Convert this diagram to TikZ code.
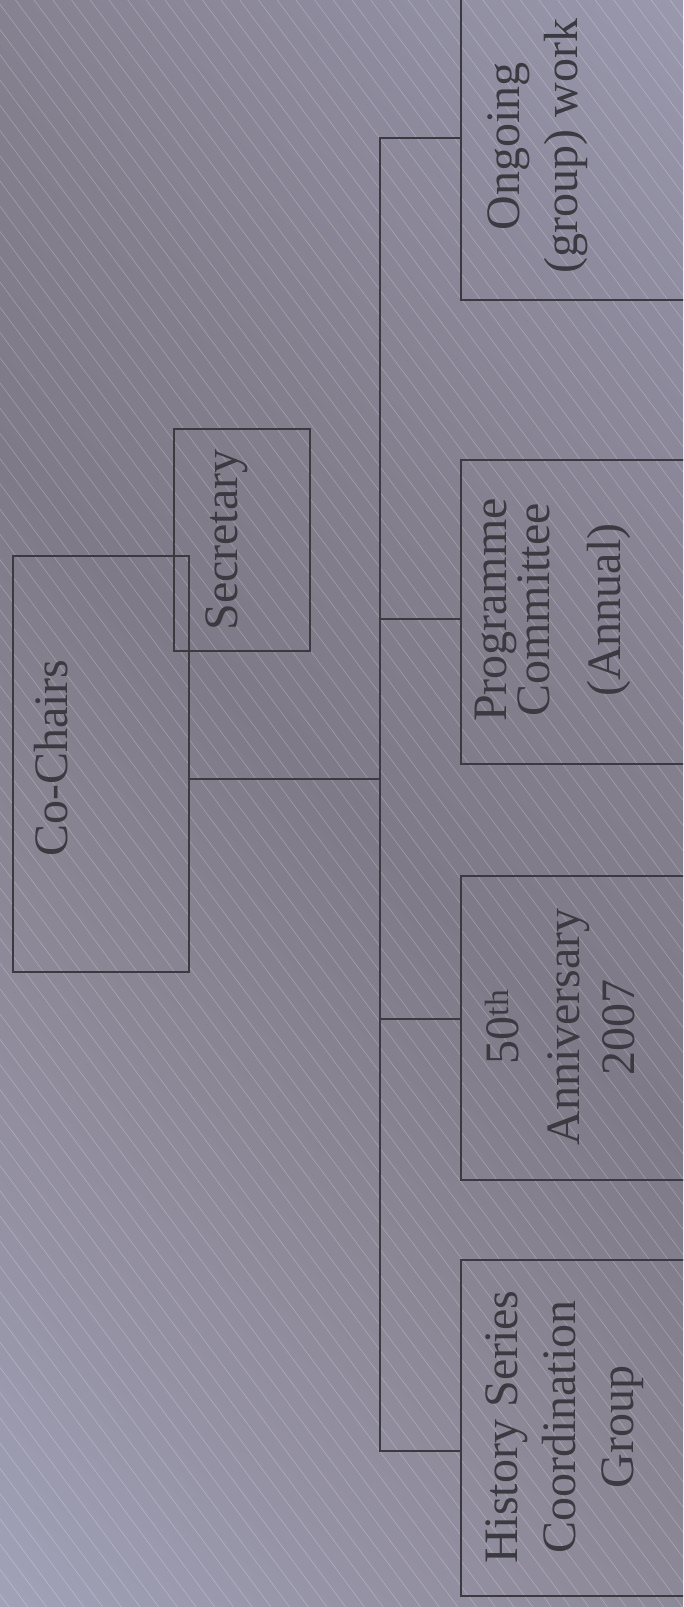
\documentclass[tikz,border=0pt]{standalone}
\usepackage{fontspec}
\setmainfont{Liberation Serif}
\definecolor{ink}{HTML}{3B3A40}
\definecolor{bgA}{HTML}{A0A2B8}
\definecolor{bgB}{HTML}{9693A6}
\definecolor{bgC}{HTML}{8A8694}
\definecolor{bgD}{HTML}{7E7A88}
\definecolor{bgE}{HTML}{847F8D}
\definecolor{bgF}{HTML}{8E8B9E}
\definecolor{bgG}{HTML}{9A98AD}
\pgfdeclarehorizontalshading{bgshade}{100bp}{color(0bp)=(bgA); color(14.6bp)=(bgA); color(25.2bp)=(bgB); color(38bp)=(bgC); color(50bp)=(bgD); color(61.3bp)=(bgE); color(74.7bp)=(bgF); color(85.3bp)=(bgG); color(100bp)=(bgG)}
\tikzset{
  boxst/.style={draw=ink, line width=2pt, inner sep=0pt, anchor=north west},
  conn/.style={draw=ink, line width=2pt},
  lbl/.style={text=ink, rotate=90, align=center, inner sep=0pt, font=\fontsize{48}{58}\selectfont},
  hatch/.style={white, opacity=0.26, line width=0.6pt}
}
\begin{document}
\begin{tikzpicture}[x=1pt,y=-1pt]
\useasboundingbox (0,0) rectangle (683,1607);
\begin{scope}
\clip (0,0) rectangle (683,1607);
\shade[shading=bgshade, shading angle=45] (0,0) rectangle (683,1607);
\foreach \c in {-1200,-1181.3,...,700} \draw[hatch] (\c,0) -- ({\c+1190.4},1607);

% boxes
\node[boxst, minimum width=176.2pt, minimum height=415.5pt] (cochairs) at (11.8,555) {};
\node[boxst, minimum width=136.3pt, minimum height=222pt] (secretary) at (172.5,428.3) {};
\node[boxst, minimum width=249.6pt, minimum height=319pt] (ongoing) at (460.4,-20) {};
\node[boxst, minimum width=249.6pt, minimum height=303.7pt] (programme) at (460.4,459) {};
\node[boxst, minimum width=249.6pt, minimum height=304pt] (anniversary) at (460.4,875) {};
\node[boxst, minimum width=249.6pt, minimum height=335.5pt] (history) at (460.4,1259) {};

% connectors
\coordinate (j) at (380.2,779);
\coordinate (bOn) at (380.2,138.3);
\coordinate (bPr) at (380.2,618.7);
\coordinate (bAn) at (380.2,1018.7);
\coordinate (bHi) at (380.2,1450.5);
\draw[conn] (cochairs.east |- j) -- (j);
\draw[conn] (ongoing.west |- bOn) -- (bOn) -- (bHi) -- (history.west |- bHi);
\draw[conn] (bPr) -- (programme.west |- bPr);
\draw[conn] (bAn) -- (anniversary.west |- bAn);

% labels
\node[lbl] (tcochairs) at (55.4,758) {\strut Co-Chairs};
\node[lbl] (tsecretary) at (225.4,540) {\strut Secretary};
\node[lbl] (tongoing) at (536.9,146) {\strut Ongoing\\\strut (group) work};
\node[lbl] (tprogramme) at (551.4,610) {\strut Programme\\[-15pt]\strut Committee\\[13pt]\strut (Annual)};
\node[lbl] (tanniversary) at (564.4,1027) {\strut 50\textsuperscript{th}\\[3pt]\strut Anniversary\\[-3pt]\strut 2007};
\node[lbl] (thistory) at (563.4,1427) {\strut History Series\\\strut Coordination\\\strut Group};
\end{scope}
\end{tikzpicture}
\end{document}
